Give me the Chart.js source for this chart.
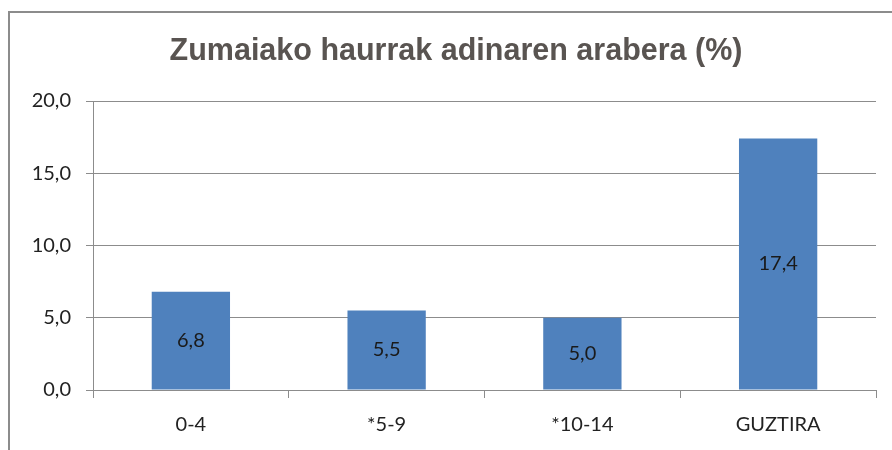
<!DOCTYPE html>
<html>
<head>
<meta charset="utf-8">
<script src="https://cdn.jsdelivr.net/npm/chart.js@4"></script>
<style>
  html, body { margin: 0; padding: 0; background: #fff; }
  #wrap { position: relative; width: 892px; height: 450px; }
</style>
</head>
<body>
<div id="wrap"><canvas id="chart" width="892" height="450"></canvas></div>
<script>
const chartTitle = "Zumaiako haurrak adinaren arabera (%)";
const ageGroups = ["0-4", "*5-9", "*10-14", "GUZTIRA"];
const childShare = [6.8, 5.5, 5.0, 17.4];
const yTicks = [0, 5, 10, 15, 20];

const fmt = (v) => v.toFixed(1).replace(".", ",");
const labelFont = "Lato, 'Liberation Sans', sans-serif";

// frame line along the left and top edge + title (centred on the framed box, not the canvas)
const framePlugin = {
  id: "frame",
  beforeDraw(chart) {
    const ctx = chart.ctx;
    ctx.save();
    ctx.strokeStyle = "#8c8c8c";
    ctx.lineWidth = 2;
    ctx.beginPath();
    ctx.moveTo(9, chart.height);
    ctx.lineTo(9, 12);
    ctx.lineTo(chart.width, 12);
    ctx.stroke();

    ctx.fillStyle = "#595451";
    ctx.font = "bold 30.5px 'Liberation Sans', Arial, sans-serif";
    ctx.textAlign = "center";
    ctx.textBaseline = "alphabetic";
    ctx.fillText(chartTitle, 456, 60);
    ctx.restore();
  },
};

// value written in the middle of each bar
const barLabels = {
  id: "barLabels",
  afterDatasetsDraw(chart) {
    const ctx = chart.ctx;
    const meta = chart.getDatasetMeta(0);
    ctx.save();
    ctx.font = "20px " + labelFont;
    ctx.fillStyle = "#1a1a1a";
    ctx.textAlign = "center";
    ctx.textBaseline = "middle";
    meta.data.forEach((bar, i) => {
      const v = chart.data.datasets[0].data[i];
      ctx.fillText(fmt(v), bar.x, (bar.y + bar.base) / 2);
    });
    ctx.restore();
  },
};

new Chart(document.getElementById("chart"), {
  type: "bar",
  data: {
    labels: ageGroups,
    datasets: [
      {
        data: childShare,
        backgroundColor: "#4f81bd",
        borderWidth: 0,
        categoryPercentage: 0.8,
        barPercentage: 0.5,
      },
    ],
  },
  options: {
    responsive: false,
    animation: false,
    layout: { padding: { left: 0, right: 16, top: 101, bottom: 0 } },
    plugins: {
      legend: { display: false },
      tooltip: { enabled: false },
      title: { display: false },
    },
    scales: {
      y: {
        min: 0,
        max: 20,
        afterFit(scale) { scale.width = 93; },
        afterBuildTicks(scale) { scale.ticks = yTicks.map((v) => ({ value: v })); },
        ticks: {
          color: "#222",
          padding: 15,
          font: { family: labelFont, size: 20 },
          callback: (v) => fmt(v),
        },
        grid: { color: "#8c8c8c", tickLength: 7 },
        border: { color: "#8c8c8c" },
      },
      x: {
        afterFit(scale) { scale.height = 60; },
        ticks: {
          color: "#222",
          padding: 15,
          font: { family: labelFont, size: 20 },
        },
        grid: { drawOnChartArea: false, color: "#8c8c8c", tickLength: 8 },
        border: { color: "#8c8c8c" },
      },
    },
  },
  plugins: [framePlugin, barLabels],
});
</script>
</body>
</html>
